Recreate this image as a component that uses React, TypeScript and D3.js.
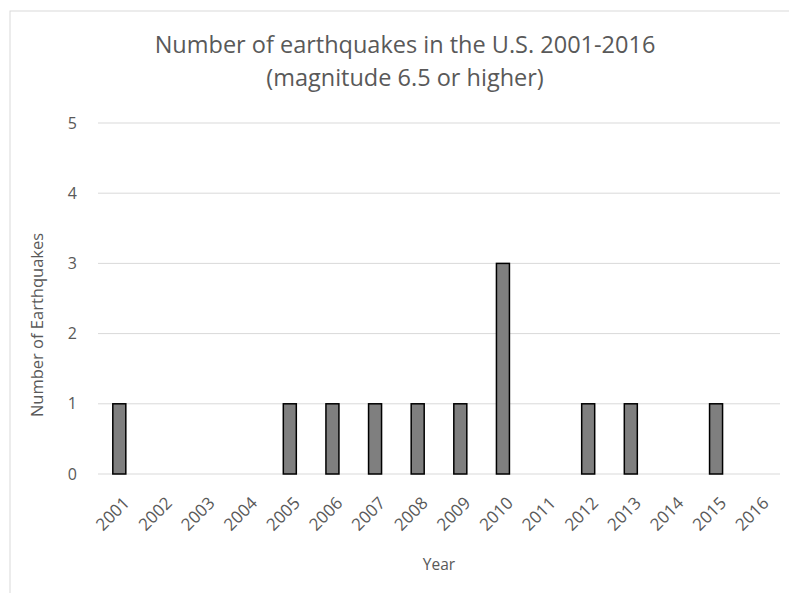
import * as d3 from "d3";

const years = ["2001", "2002", "2003", "2004", "2005", "2006", "2007", "2008", "2009", "2010", "2011", "2012", "2013", "2014", "2015", "2016"];
const counts = [1, 0, 0, 0, 1, 1, 1, 1, 1, 3, 0, 1, 1, 0, 1, 0];
const yTicks = [0, 1, 2, 3, 4, 5];

const titleLines = ["Number of earthquakes in the U.S. 2001-2016", "(magnitude 6.5 or higher)"];

export default function App() {
  const width = 789;
  const height = 593;
  const margin = { top: 123, right: 9, bottom: 119, left: 98 };
  const innerW = width - margin.left - margin.right;
  const innerH = height - margin.top - margin.bottom;

  const x = d3.scaleBand().domain(years).range([0, innerW]).padding(0);
  const y = d3.scaleLinear().domain([0, 5]).range([innerH, 0]);
  const barW = x.bandwidth() * 0.305;

  const font = "'Open Sans', sans-serif";
  const textColor = "#595959";

  return (
    <svg width={width} height={height} style={{ position: "absolute", left: 0, top: 0, background: "#fff" }}>
      <rect x={10} y={11} width={800} height={600} fill="#fff" stroke="#d9d9d9" strokeWidth={1} />
      {titleLines.map((t, i) => (
        <text key={t} x={405} y={53 + i * 33} textAnchor="middle" fontFamily={font} fontSize={23.5} fill={textColor}>
          {t}
        </text>
      ))}
      <g transform={`translate(${margin.left},${margin.top})`}>
        {yTicks.map((t) => (
          <g key={t}>
            <line x1={0} x2={innerW} y1={y(t)} y2={y(t)} stroke="#d9d9d9" strokeWidth={1} />
            <text x={-21} y={y(t)} dy="0.35em" textAnchor="end" fontFamily={font} fontSize={16} fill={textColor}>
              {t}
            </text>
          </g>
        ))}
        {years.map((yr, i) =>
          counts[i] > 0 ? (
            <rect
              key={yr}
              x={(x(yr) as number) + x.bandwidth() / 2 - barW / 2}
              y={y(counts[i])}
              width={barW}
              height={innerH - y(counts[i])}
              fill="#7f7f7f"
              stroke="#000"
              strokeWidth={1.5}
            />
          ) : null
        )}
        {years.map((yr) => {
          const cx = (x(yr) as number) + x.bandwidth() / 2 + 7;
          return (
            <text
              key={yr}
              transform={`translate(${cx},${innerH + 26}) rotate(-45)`}
              textAnchor="end"
              dy="0.35em"
              fontFamily={font}
              fontSize={17}
              fill={textColor}
            >
              {yr}
            </text>
          );
        })}
        <text x={innerW / 2} y={innerH + 96} textAnchor="middle" fontFamily={font} fontSize={15.5} fill={textColor}>
          Year
        </text>
        <text
          transform={`translate(${37 - margin.left},${325 - margin.top}) rotate(-90)`}
          textAnchor="middle"
          dy="0.35em"
          fontFamily={font}
          fontSize={16.5}
          fill={textColor}
        >
          Number of Earthquakes
        </text>
      </g>
    </svg>
  );
}
